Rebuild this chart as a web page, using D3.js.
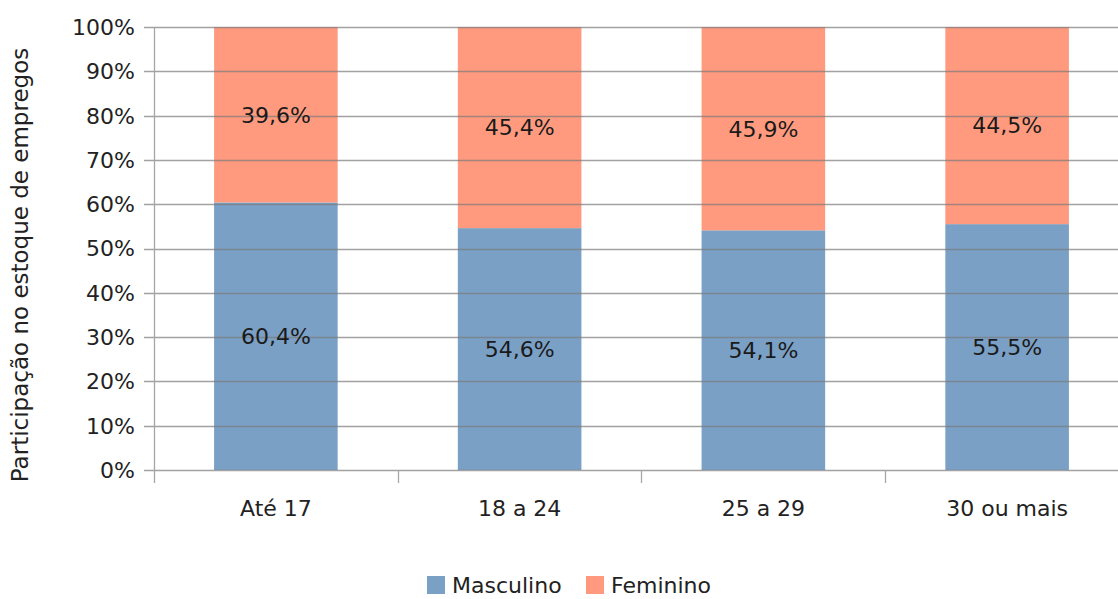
<!DOCTYPE html>
<html>
<head>
<meta charset="utf-8">
<script src="https://cdn.jsdelivr.net/npm/d3@7"></script>
<style>
  html, body { margin: 0; padding: 0; background: #fff; }
  svg { display: block; font-family: "DejaVu Sans", sans-serif; }
</style>
</head>
<body>
<div id="chart"></div>
<script>
const categories = ["Até 17", "18 a 24", "25 a 29", "30 ou mais"];
const masculino = [60.4, 54.6, 54.1, 55.5];
const feminino = [39.6, 45.4, 45.9, 44.5];
const yTicks = [0, 10, 20, 30, 40, 50, 60, 70, 80, 90, 100];
const seriesNames = ["Masculino", "Feminino"];
const seriesColors = ["#7ba0c6", "#ff9a7f"];

const width = 1118, height = 599;
const plotLeft = 154, plotRight = 1129, plotTop = 27, plotBottom = 470;

const svg = d3.select("#chart").append("svg")
    .attr("width", width)
    .attr("height", height);

const x = d3.scaleBand()
    .domain(categories)
    .range([plotLeft, plotRight])
    .paddingInner(0.493)
    .paddingOuter(0.2465);

const y = d3.scaleLinear()
    .domain([0, 100])
    .range([plotBottom, plotTop]);

// stacked data
const rows = categories.map((c, i) => ({ cat: c, Masculino: masculino[i], Feminino: feminino[i] }));
const stack = d3.stack().keys(seriesNames)(rows);

const fmt = v => d3.format(".1f")(v).replace(".", ",") + "%";

// bars
svg.append("g")
    .selectAll("g")
    .data(stack)
    .join("g")
    .attr("fill", (d, i) => seriesColors[i])
    .selectAll("rect")
    .data(d => d)
    .join("rect")
    .attr("x", d => x(d.data.cat))
    .attr("width", x.bandwidth())
    .attr("y", d => y(d[1]))
    .attr("height", d => y(d[0]) - y(d[1]));

// gridlines drawn over the bars
svg.append("g")
    .selectAll("line")
    .data(yTicks)
    .join("line")
    .attr("x1", plotLeft - 10)
    .attr("x2", width)
    .attr("y1", d => Math.round(y(d)) + 0.5)
    .attr("y2", d => Math.round(y(d)) + 0.5)
    .attr("stroke", "#7a7a7a")
    .attr("stroke-opacity", 0.7)
    .attr("stroke-width", 1.3);

// y axis line
svg.append("line")
    .attr("x1", plotLeft + 0.5).attr("x2", plotLeft + 0.5)
    .attr("y1", plotTop).attr("y2", plotBottom + 13)
    .attr("stroke", "#a6a6a6")
    .attr("stroke-width", 1.3);

// y tick labels
svg.append("g")
    .selectAll("text")
    .data(yTicks)
    .join("text")
    .attr("x", 135)
    .attr("y", d => y(d))
    .attr("dy", "0.36em")
    .attr("text-anchor", "end")
    .attr("font-size", 22)
    .attr("fill", "#222")
    .text(d => d + "%");

// x ticks between categories
const xTickPos = d3.range(1, categories.length).map(i => x(categories[i]) - x.step() * x.paddingInner() / 2);
svg.append("g")
    .selectAll("line")
    .data(xTickPos)
    .join("line")
    .attr("x1", d => Math.round(d) + 0.5)
    .attr("x2", d => Math.round(d) + 0.5)
    .attr("y1", plotBottom)
    .attr("y2", plotBottom + 13)
    .attr("stroke", "#a6a6a6")
    .attr("stroke-width", 1.3);

// x labels
svg.append("g")
    .selectAll("text")
    .data(categories)
    .join("text")
    .attr("x", d => x(d) + x.bandwidth() / 2)
    .attr("y", 516)
    .attr("text-anchor", "middle")
    .attr("font-size", 22)
    .attr("fill", "#222")
    .text(d => d);

// value labels
svg.append("g")
    .selectAll("g")
    .data(stack)
    .join("g")
    .selectAll("text")
    .data(d => d)
    .join("text")
    .attr("x", d => x(d.data.cat) + x.bandwidth() / 2)
    .attr("y", d => y((d[0] + d[1]) / 2))
    .attr("dy", "0.36em")
    .attr("text-anchor", "middle")
    .attr("font-size", 22)
    .attr("fill", "#1a1a1a")
    .text(d => fmt(d[1] - d[0]));

// y axis title
svg.append("text")
    .attr("transform", "translate(28,265) rotate(-90)")
    .attr("text-anchor", "middle")
    .attr("font-size", 23)
    .attr("fill", "#222")
    .text("Participação no estoque de empregos");

// legend
const legendX = [427, 586];
const legend = svg.append("g")
    .selectAll("g")
    .data(seriesNames)
    .join("g")
    .attr("transform", (d, i) => `translate(${legendX[i]},576)`);

legend.append("rect")
    .attr("width", 18)
    .attr("height", 18)
    .attr("fill", (d, i) => seriesColors[i]);

legend.append("text")
    .attr("x", 25)
    .attr("y", 17)
    .attr("font-size", 22)
    .attr("fill", "#222")
    .text(d => d);
</script>
</body>
</html>
